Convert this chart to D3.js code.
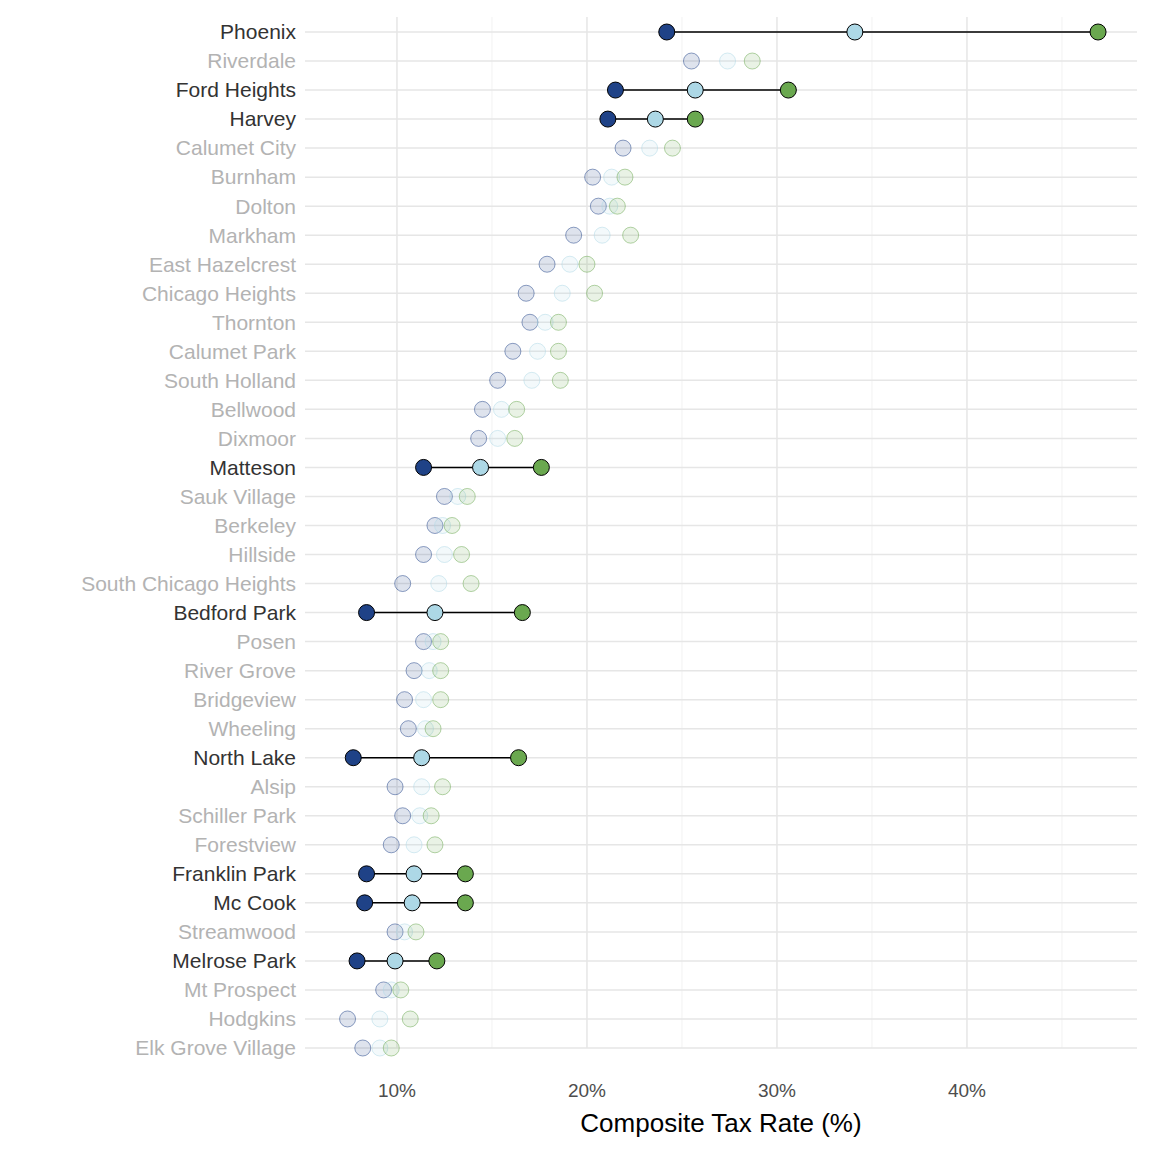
<!DOCTYPE html>
<html><head><meta charset="utf-8">
<script src="https://cdn.jsdelivr.net/npm/d3@7"></script>
<style>body{margin:0;background:#fff}</style>
</head><body>
<div id="chart"></div>
<script>
// towns, top to bottom
var towns = ["Phoenix","Riverdale","Ford Heights","Harvey","Calumet City","Burnham","Dolton","Markham",
  "East Hazelcrest","Chicago Heights","Thornton","Calumet Park","South Holland","Bellwood","Dixmoor",
  "Matteson","Sauk Village","Berkeley","Hillside","South Chicago Heights","Bedford Park","Posen",
  "River Grove","Bridgeview","Wheeling","North Lake","Alsip","Schiller Park","Forestview",
  "Franklin Park","Mc Cook","Streamwood","Melrose Park","Mt Prospect","Hodgkins","Elk Grove Village"];
var lowRate = [24.2,25.5,21.5,21.1,21.9,20.3,20.6,19.3,17.9,16.8,17.0,16.1,15.3,14.5,14.3,11.4,12.5,12.0,11.4,10.3,
  8.4,11.4,10.9,10.4,10.6,7.7,9.9,10.3,9.7,8.4,8.3,9.9,7.9,9.3,7.4,8.2];
var midRate = [34.1,27.4,25.7,23.6,23.3,21.3,21.2,20.8,19.1,18.7,17.8,17.4,17.1,15.5,15.3,14.4,13.2,12.4,12.5,12.2,
  12.0,11.9,11.7,11.4,11.5,11.3,11.3,11.2,10.9,10.9,10.8,10.4,9.9,9.7,9.1,9.1];
var highRate = [46.9,28.7,30.6,25.7,24.5,22.0,21.6,22.3,20.0,20.4,18.5,18.5,18.6,16.3,16.2,17.6,13.7,12.9,13.4,13.9,
  16.6,12.3,12.3,12.3,11.9,16.4,12.4,11.8,12.0,13.6,13.6,11.0,12.1,10.2,10.7,9.7];
var highlighted = ["Phoenix","Ford Heights","Harvey","Matteson","Bedford Park","North Lake","Franklin Park","Mc Cook","Melrose Park"];
var majorTicks = [10,20,30,40];
var minorTicks = [15,25,35,45];

var W = 1152, H = 1152;
var m = {left: 305, right: 15, top: 17, bottom: 104};
var svg = d3.select("#chart").append("svg").attr("width", W).attr("height", H)
  .style("font-family", "Arial, 'Liberation Sans', sans-serif");

var x = d3.scaleLinear().domain([5.16, 48.95]).range([m.left, W - m.right]);
var y = d3.scalePoint().domain(towns).range([32, 1048]);

var g = svg.append("g");
g.selectAll(".minor").data(minorTicks).enter().append("line")
  .attr("x1", d => x(d)).attr("x2", d => x(d)).attr("y1", m.top).attr("y2", H - m.bottom)
  .attr("stroke", "#f2f2f2").attr("stroke-width", 1);
g.selectAll(".major").data(majorTicks).enter().append("line")
  .attr("x1", d => x(d)).attr("x2", d => x(d)).attr("y1", m.top).attr("y2", H - m.bottom)
  .attr("stroke", "#e6e6e6").attr("stroke-width", 1.5);
g.selectAll(".hgrid").data(towns).enter().append("line")
  .attr("x1", m.left).attr("x2", W - m.right).attr("y1", d => y(d)).attr("y2", d => y(d))
  .attr("stroke", "#e6e6e6").attr("stroke-width", 1.5);

var rows = towns.map(function(t, i) {
  return {town: t, lo: lowRate[i], mid: midRate[i], hi: highRate[i], on: highlighted.indexOf(t) >= 0};
});

// connecting lines for highlighted towns
g.selectAll(".seg").data(rows.filter(d => d.on)).enter().append("line")
  .attr("x1", d => x(d.lo)).attr("x2", d => x(d.hi)).attr("y1", d => y(d.town)).attr("y2", d => y(d.town))
  .attr("stroke", "#000").attr("stroke-width", 1.5);

var series = [["lo", "#1f4287"], ["mid", "#add8e6"], ["hi", "#6aa84f"]];
series.forEach(function(s) {
  g.selectAll(".pt-" + s[0]).data(rows).enter().append("circle")
    .attr("cx", d => x(d[s[0]])).attr("cy", d => y(d.town)).attr("r", 8)
    .attr("fill", s[1]).attr("fill-opacity", d => d.on ? 1 : 0.15)
    .attr("stroke", d => d.on ? "#000" : s[1]).attr("stroke-opacity", d => d.on ? 1 : 0.5)
    .attr("stroke-width", d => d.on ? 1 : 1);
});

// town labels
g.selectAll(".lab").data(rows).enter().append("text")
  .attr("x", m.left - 9).attr("y", d => y(d.town)).attr("dy", "0.35em")
  .attr("text-anchor", "end").attr("font-size", 21)
  .attr("fill", d => d.on ? "#333" : "#b3b3b3").text(d => d.town);

// x ticks
g.selectAll(".xt").data(majorTicks).enter().append("text")
  .attr("x", d => x(d)).attr("y", 1097).attr("text-anchor", "middle")
  .attr("font-size", 19).attr("fill", "#4d4d4d").text(d => d + "%");

svg.append("text").attr("x", (m.left + W - m.right) / 2).attr("y", 1132)
  .attr("text-anchor", "middle").attr("font-size", 26).attr("fill", "#000")
  .text("Composite Tax Rate (%)");
</script>
</body></html>
